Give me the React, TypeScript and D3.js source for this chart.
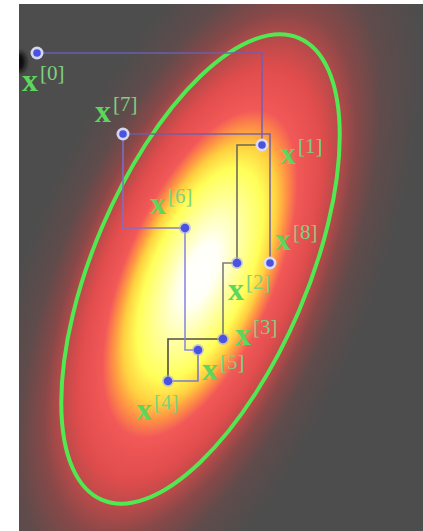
import React from "react";
import * as d3 from "d3";

// Gibbs sample points (data units, y up)
const sampleLabels = ["0", "1", "2", "3", "4", "5", "6", "7", "8"];
const sampleX = [-3.26, 1.24, 0.74, 0.46, -0.64, -0.04, -0.30, -1.54, 1.40];
const sampleY = [4.32, 2.48, 0.12, -1.40, -2.24, -1.62, 0.82, 2.70, 0.12];
// label offsets (data units) relative to each point: left edge of "x", baseline
const labelDX = [-0.30, 0.36, -0.18, 0.24, -0.64, 0.08, -0.70, -0.56, 0.10];
const labelDY = [-0.76, -0.38, -0.74, -0.12, -0.78, -0.60, 0.28, 0.24, 0.26];
const ringed = [true, true, false, false, false, false, false, true, true];
const segColors = ["#6b60b8", "#5c5c5c", "#6e6e6e", "#3c3c3c", "#6e6ed8", "#7e7ee0", "#7a70d0", "#6b5fa8"];

// Gaussian contour
const ellipseCenter = [0.01, 0];
const ellipseAxes = [5.02, 2.14];
const ellipseAngle = 66.9;
const heatCenter = [0, -0.1];

const heatOffsets = [0, 0.13, 0.3, 0.45, 0.55, 0.62, 0.7, 0.88, 1.0, 1.12, 1.3, 1.6];
const heatColors = ["#ffffff", "#fffff8", "#ffffa0", "#ffff58", "#ffd040", "#ff9444", "#f25858", "#e04c4c", "#b84a4a", "#884848", "#604b4b", "#4d4d4d"];

const W = 423;
const H = 531;

export default function App() {
  const x = d3.scaleLinear().domain([-3.62, 4.46]).range([19, 423]);
  const y = d3.scaleLinear().domain([5.3, -5.24]).range([4, 531]);
  const unit = x(1) - x(0);

  const cx = x(ellipseCenter[0]);
  const cy = y(ellipseCenter[1]);
  const hx = x(heatCenter[0]);
  const hy = y(heatCenter[1]);
  const maxOff = heatOffsets[heatOffsets.length - 1];

  const pts = sampleX.map((v, i) => ({ px: x(v), py: y(sampleY[i]) }));
  const segs = pts.slice(1).map((p, i) => {
    const a = pts[i];
    const path = d3.path();
    path.moveTo(a.px, a.py);
    path.lineTo(p.px, a.py);
    path.lineTo(p.px, p.py);
    return { d: path.toString(), color: segColors[i] };
  });

  return (
    <svg
      width={W}
      height={H}
      style={{ position: "absolute", left: 0, top: 0, background: "#ffffff" }}
    >
      <defs>
        <radialGradient id="heat">
          {heatOffsets.map((o, i) => (
            <stop key={i} offset={o / maxOff} stopColor={heatColors[i]} />
          ))}
        </radialGradient>
        <clipPath id="plot">
          <rect x={x(-3.62)} y={y(5.3)} width={x(4.46) - x(-3.62)} height={y(-5.24) - y(5.3)} />
        </clipPath>
        <filter id="blur" x="-50%" y="-50%" width="200%" height="200%">
          <feGaussianBlur stdDeviation="2" />
        </filter>
      </defs>
      <g clipPath="url(#plot)">
        <rect x={x(-3.62)} y={y(5.3)} width={x(4.46) - x(-3.62)} height={y(-5.24) - y(5.3)} fill="#4d4d4d" />
        <ellipse
          cx={hx}
          cy={hy}
          rx={ellipseAxes[0] * unit * maxOff}
          ry={ellipseAxes[1] * unit * maxOff}
          transform={`rotate(${-ellipseAngle},${hx},${hy})`}
          fill="url(#heat)"
        />
        <ellipse cx={x(-3.62) + 1} cy={y(4.14)} rx={6} ry={10} fill="#111" filter="url(#blur)" />
        <ellipse
          cx={cx}
          cy={cy}
          rx={ellipseAxes[0] * unit}
          ry={ellipseAxes[1] * unit}
          transform={`rotate(${-ellipseAngle},${cx},${cy})`}
          fill="none"
          stroke="#52e852"
          strokeWidth={4}
        />
        {segs.map((s, i) => (
          <path key={i} d={s.d} fill="none" stroke={s.color} strokeWidth={1.6} strokeOpacity={0.9} />
        ))}
        {pts.map((p, i) => (
          <g key={i}>
            <circle cx={p.px} cy={p.py} r={ringed[i] ? 6.5 : 6} fill={ringed[i] ? "#dcdcf8" : "#a8a8f0"} fillOpacity={ringed[i] ? 0.95 : 0.6} />
            <circle cx={p.px} cy={p.py} r={ringed[i] ? 3.8 : 4.3} fill="#4a52e2" />
          </g>
        ))}
        {pts.map((p, i) => {
          const lx = x(sampleX[i] + labelDX[i]);
          const ly = y(sampleY[i] + labelDY[i]);
          return (
            <text key={i} x={lx} y={ly} fontFamily="'Liberation Serif', serif" fill="#5cd65c">
              <tspan fontSize={32} fontWeight="bold">x</tspan>
              <tspan fontSize={21} dx={2} dy={-11} fill="#7fd07f">[{sampleLabels[i]}]</tspan>
            </text>
          );
        })}
      </g>
    </svg>
  );
}
